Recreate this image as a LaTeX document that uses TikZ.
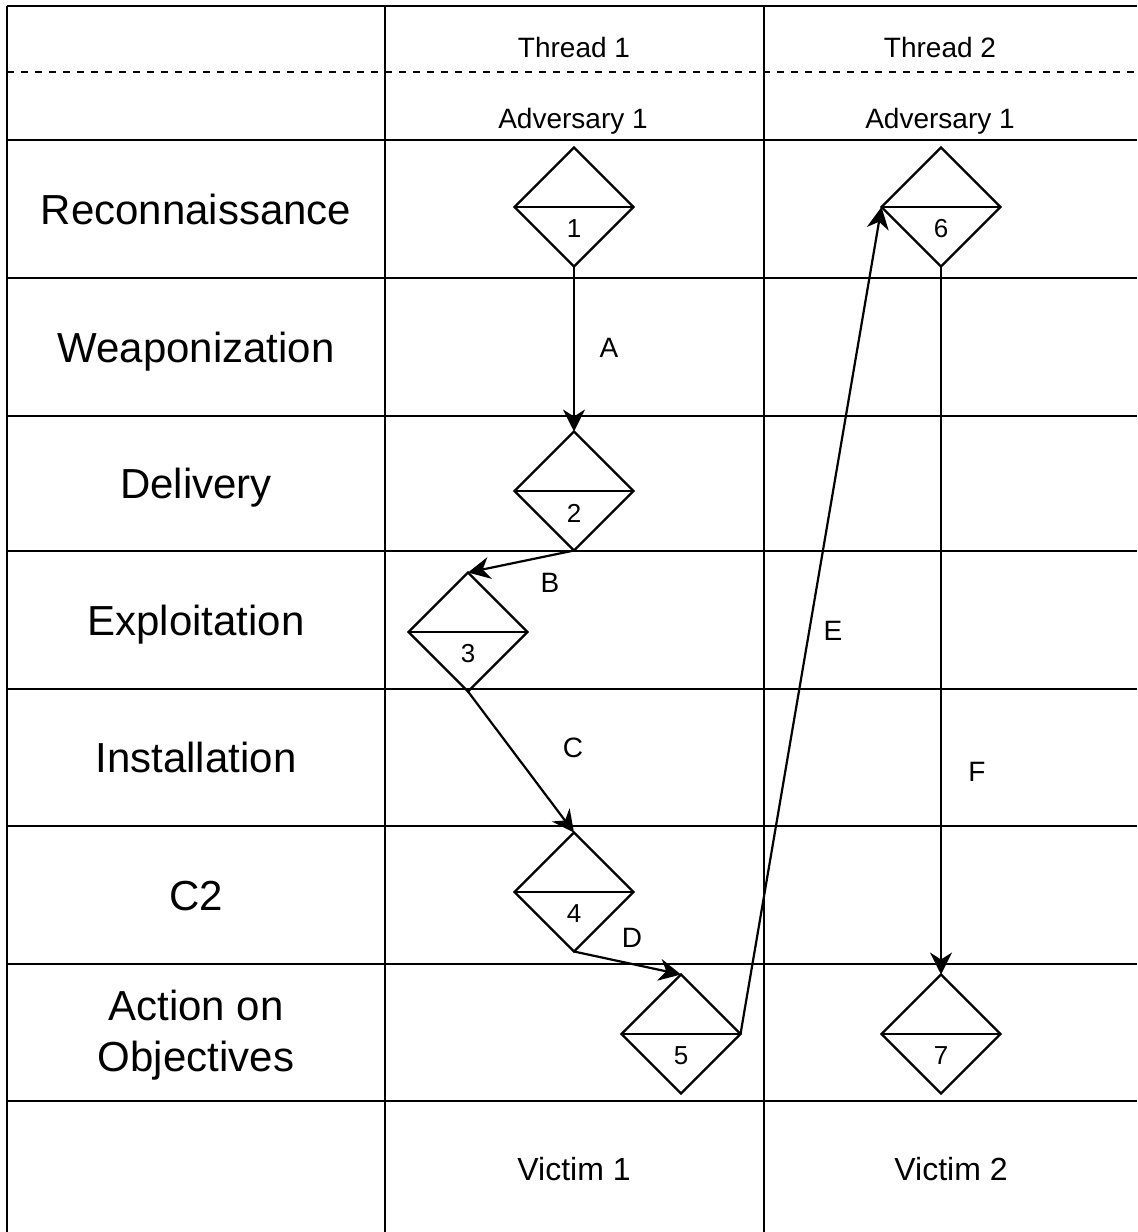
\documentclass[tikz,border=0pt]{standalone}
\usepackage{fontspec}
\setmainfont{Liberation Sans}
\usetikzlibrary{shapes.geometric,arrows.meta,positioning}

\tikzset{
  grid/.style={line width=1.3pt},
  event/.style={draw,diamond,line width=1.1pt,inner sep=0pt,outer sep=0pt,minimum width=59.5pt,minimum height=59.5pt},
  num/.style={font=\fontsize{13}{15}\selectfont,inner sep=0pt},
  lbl/.style={font=\fontsize{14}{17}\selectfont,inner sep=0pt},
  flow/.style={-{Stealth[length=11pt,width=11pt,inset=3.5pt]},line width=1.1pt},
  stage/.style={font=\fontsize{21}{25.5}\selectfont,align=center,inner sep=0pt},
  head/.style={font=\fontsize{14}{17}\selectfont,anchor=base,inner sep=0pt},
  foot/.style={font=\fontsize{16}{19}\selectfont,anchor=base,inner sep=0pt}
}

\begin{document}
\begin{tikzpicture}[x=0.5pt,y=-0.5pt]
  \useasboundingbox (0,0) rectangle (1137,1232);
  % table
  \foreach \xx in {7,385,764}
    \draw[grid] (\xx,6) -- (\xx,1232);
  \foreach \yy in {6,140,278,416,551,689,826,964,1101}
    \draw[grid] (7,\yy) -- (1137,\yy);
  \draw[grid,dash pattern=on 3.5pt off 3.5pt] (7,72) -- (1137,72);

  % kill chain phases
  \foreach \t/\yy [count=\i] in {Reconnaissance/224, Weaponization/362, Delivery/498, Exploitation/635, Installation/772, C2/910}
    \node[stage,anchor=base] (s\i) at (196,\yy) {\t};
  \node[stage] (s7) at (196,1035) {Action on\\Objectives};

  \node[head] (t1) at (574,57) {Thread 1};
  \node[head] (t2) at (940,57) {Thread 2};
  \node[head] (a1) at (573,128) {Adversary 1};
  \node[head] (a2) at (940,128) {Adversary 1};
  \node[foot] (v1) at (574,1180) {Victim 1};
  \node[foot] (v2) at (951,1180) {Victim 2};

  % events
  \foreach \n/\xx/\yy in {1/574/207, 2/574/491, 3/468/632, 4/574/892, 5/681/1034, 6/941/207, 7/941/1034} {
    \node[event] (d\n) at (\xx,\yy) {};
    \draw[line width=1.1pt] (d\n.west) -- (d\n.east);
    \node[num] (n\n) at ([yshift=-11pt]d\n.center) {\n};
  }

  \draw[flow] (d1.south) -- (d2.north);
  \draw[flow] (d2.south) -- (d3.north);
  \draw[flow] (d3.south) -- (d4.north);
  \draw[flow] (d4.south) -- (d5.north);
  \draw[flow] (d5.east) -- (d6.west);
  \draw[flow] (d6.south) -- (d7.north);

  \foreach \lab/\xx/\yy in {A/609/348, B/550/583, C/573/748, D/632/938, E/833/631, F/977/772}
    \node[lbl] (e\lab) at (\xx,\yy) {\lab};
\end{tikzpicture}
\end{document}
